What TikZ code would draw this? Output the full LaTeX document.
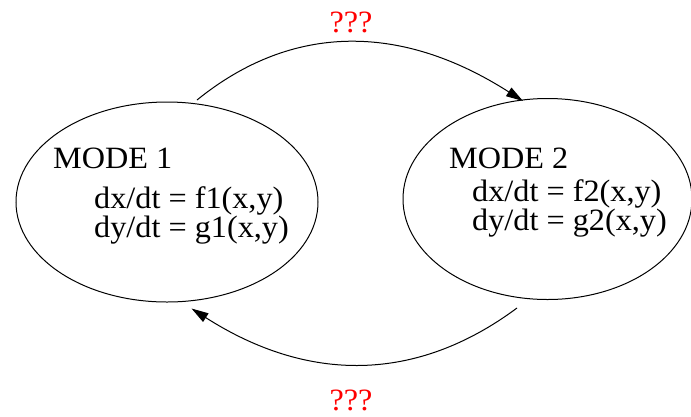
\documentclass[tikz,border=0pt]{standalone}
\usepackage{fontspec}
\setmainfont{Liberation Serif}[FakeStretch=1.04]
\usetikzlibrary{shapes.geometric,arrows.meta}
\begin{document}
\begin{tikzpicture}[x=1pt,y=-1pt,
  modebox/.style={draw,ellipse,inner sep=0pt,line width=1pt},
  txt/.style={inner sep=0pt,anchor=base west,font=\fontsize{31}{36}\selectfont},
  lbl/.style={inner sep=0pt,anchor=base,text=red,text depth=0pt,font=\fontsize{31}{36}\selectfont},
  conn/.style={line width=1pt,-{Triangle[length=17pt,width=10pt]}}]
\useasboundingbox (0,0) rectangle (691,416);
\node[modebox,minimum width=302pt,minimum height=200pt] (m1) at (167,202) {};
\node[modebox,minimum width=289pt,minimum height=201pt] (m2) at (547.5,199) {};
\node[txt] (m1t) at (53,168.5) {MODE 1};
\node[txt] (m1a) at (94,208) {dx/dt = f1(x,y)};
\node[txt] (m1b) at (94,237) {dy/dt = g1(x,y)};
\node[txt] (m2t) at (449,168.5) {MODE 2};
\node[txt] (m2a) at (472,201) {dx/dt = f2(x,y)};
\node[txt] (m2b) at (472,230) {dy/dt = g2(x,y)};
\node[lbl] (q1) at (351,32) {???};
\node[lbl] (q2) at (351,410) {???};
\coordinate (s1) at (197,100);
\coordinate (e1) at (523,101);
\coordinate (s2) at (517,308);
\coordinate (e2) at (191.5,308.5);
\draw[conn] (s1) .. controls (292,23) and (401,23) .. (e1);
\draw[conn] (s2) .. controls (416,383) and (308,383) .. (e2);
\end{tikzpicture}
\end{document}
